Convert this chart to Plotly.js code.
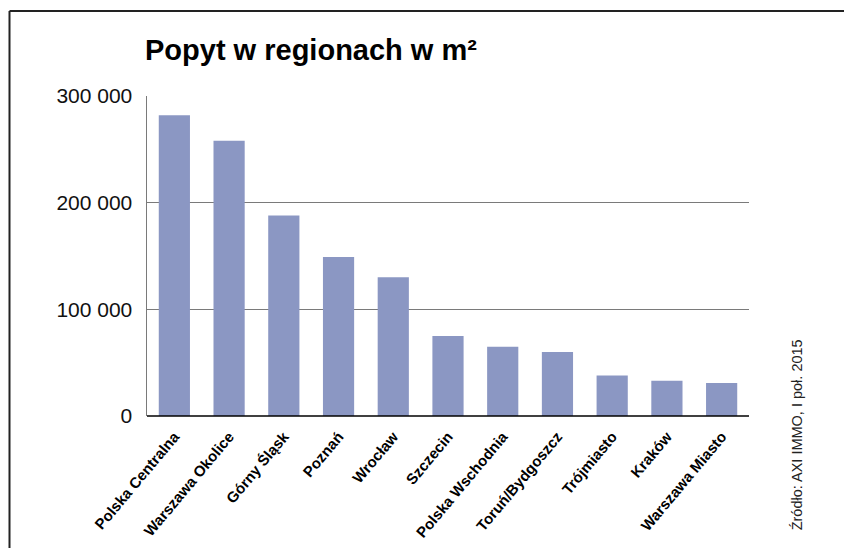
<!DOCTYPE html>
<html>
<head>
<meta charset="utf-8">
<script src="https://cdn.plot.ly/plotly-3.0.1.min.js"></script>
<style>
  html, body { margin: 0; padding: 0; background: #fff; }
  #chart { width: 844px; height: 548px; }
</style>
</head>
<body>
<div id="chart"></div>
<script>
const titleText = "Popyt w regionach w m²";
const sourceText = "Źródło: AXI IMMO, I poł. 2015";
const regions = ["Polska Centralna", "Warszawa Okolice", "Górny Śląsk", "Poznań", "Wrocław",
  "Szczecin", "Polska Wschodnia", "Toruń/Bydgoszcz", "Trójmiasto", "Kraków", "Warszawa Miasto"];
const demand = [282000, 258000, 188000, 149000, 130000, 75000, 65000, 60000, 38000, 33000, 31000];
const yTickVals = [0, 100000, 200000, 300000];
const yTickText = ["0", "100 000", "200 000", "300 000"];

const trace = {
  type: "bar",
  x: regions,
  y: demand,
  marker: { color: "#8b97c3", line: { width: 0 } },
  hoverinfo: "x+y"
};

const layout = {
  width: 844,
  height: 548,
  margin: { l: 147, r: 95, t: 96, b: 132 },
  paper_bgcolor: "#ffffff",
  plot_bgcolor: "#ffffff",
  showlegend: false,
  bargap: 0.43,
  font: { family: "Liberation Sans, Arial, sans-serif", color: "#000" },
  title: {
    text: "<b>" + titleText + "</b>",
    font: { family: "Liberation Sans, Arial, sans-serif", size: 29, color: "#000" },
    x: 145 / 844, xref: "container", xanchor: "left",
    y: 1 - 50 / 548, yref: "container", yanchor: "middle"
  },
  xaxis: {
    type: "category",
    tickangle: -50,
    tickfont: { family: "Liberation Sans, Arial, sans-serif", size: 15, color: "#000", weight: "bold" },
    showgrid: false,
    showline: false,
    zeroline: false,
    ticks: "outside", ticklen: 5, tickcolor: "rgba(0,0,0,0)",
    fixedrange: true
  },
  yaxis: {
    range: [0, 300000],
    tickvals: yTickVals,
    ticktext: yTickText,
    tickfont: { family: "Liberation Sans, Arial, sans-serif", size: 21, color: "#111" },
    showgrid: true,
    gridcolor: "#7a7a7a",
    gridwidth: 1,
    showline: true,
    linecolor: "#7a7a7a",
    linewidth: 1.5,
    zeroline: false,
    ticks: "outside", ticklen: 9, tickcolor: "rgba(0,0,0,0)",
    fixedrange: true
  },
  shapes: [
    { type: "line", xref: "paper", yref: "paper", x0: 0, x1: 1, y0: 0, y1: 0,
      line: { color: "#000", width: 1.5 } },
    { type: "line", xref: "paper", yref: "paper", x0: -0.2284, x1: -0.2284, y0: 1.2656, y1: -0.45,
      line: { color: "#222", width: 2 } },
    { type: "line", xref: "paper", yref: "paper", x0: -0.2284, x1: 1.2, y0: 1.2656, y1: 1.2656,
      line: { color: "#222", width: 2 } }
  ],
  annotations: [
    { text: sourceText, xref: "paper", yref: "paper", x: 1.08, y: -0.06,
      textangle: -90, showarrow: false, xanchor: "center", yanchor: "middle",
      font: { family: "Liberation Sans, Arial, sans-serif", size: 14.5, color: "#222" } }
  ]
};

Plotly.newPlot("chart", [trace], layout, { displayModeBar: false, staticPlot: true });
</script>
</body>
</html>
